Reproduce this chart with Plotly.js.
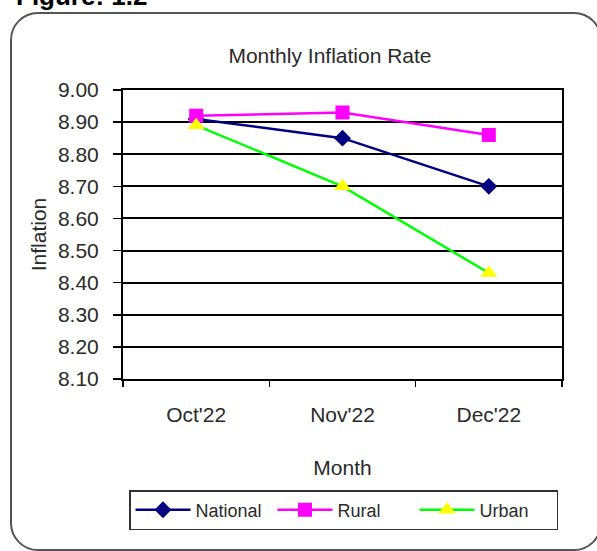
<!DOCTYPE html>
<html>
<head>
<meta charset="utf-8">
<script src="https://cdn.plot.ly/plotly-3.0.1.min.js"></script>
<style>
  html, body { margin:0; padding:0; background:#fff; }
  #wrap { position:relative; width:597px; height:551px; overflow:hidden; }
  #frame { position:absolute; left:10px; top:12px; width:592px; height:539px;
           border:2px solid #555; border-radius:28px; box-sizing:border-box; }
  #chart { position:absolute; left:0; top:0; width:597px; height:551px; }
</style>
</head>
<body>
<div id="wrap">
  <div id="frame"></div>
  <div id="chart"></div>
</div>
<script>
const months = ["Oct'22", "Nov'22", "Dec'22"];
const national = [8.91, 8.85, 8.70];
const rural = [8.92, 8.93, 8.86];
const urban = [8.89, 8.70, 8.43];
const yTicks = [8.10, 8.20, 8.30, 8.40, 8.50, 8.60, 8.70, 8.80, 8.90, 9.00];

const font = 'Liberation Sans, Arial, sans-serif';
const txt = '#2a2a2a';
const L = 123, R = 562, T = 90, B = 379;
const px2x = p => (p - L) / (R - L);
const px2y = p => (B - p) / (B - T);

const traces = [
  { x: months, y: national, name: 'National', type: 'scatter', mode: 'lines+markers',
    line: { color: '#000080', width: 2.5 },
    marker: { symbol: 'diamond', size: 13, color: '#000080' } },
  { x: months, y: rural, name: 'Rural', type: 'scatter', mode: 'lines+markers',
    line: { color: '#FF00FF', width: 2.5 },
    marker: { symbol: 'square', size: 14, color: '#FF00FF' } },
  { x: months, y: urban, name: 'Urban', type: 'scatter', mode: 'lines+markers',
    line: { color: '#00FF00', width: 2.5 },
    marker: { symbol: 'triangle-up', size: 15, color: '#FFFF00' } }
];

const layout = {
  width: 597, height: 551,
  paper_bgcolor: 'rgba(0,0,0,0)', plot_bgcolor: '#fff',
  margin: { l: L, r: 597 - R, t: T, b: 551 - B, pad: 0 },
  font: { family: font, size: 20, color: txt },
  title: { text: 'Monthly Inflation Rate', font: { family: font, size: 21, color: txt },
           x: px2x(330), xref: 'paper', xanchor: 'center', y: 1 - 56/551, yanchor: 'middle' },
  showlegend: true,
  legend: { orientation: 'h', x: px2x(129), xanchor: 'left', y: px2y(490), yanchor: 'top',
            bordercolor: '#333', borderwidth: 1.5, bgcolor: '#fff',
            itemwidth: 55, tracegroupgap: 0, entrywidth: 72, entrywidthmode: 'pixels',
            font: { family: font, size: 18, color: txt } },
  xaxis: {
    type: 'category', range: [-0.5, 2.5], tickson: 'boundaries', automargin: false,
    ticks: 'outside', ticklen: 6, tickwidth: 1.5, tickcolor: '#000',
    showline: true, linecolor: '#000', linewidth: 2, mirror: true,
    showgrid: false, ticklabelstandoff: 16,
    tickfont: { family: font, size: 21, color: txt },
    title: { text: 'Month', font: { family: font, size: 21, color: txt }, standoff: 35 }
  },
  yaxis: {
    range: [8.1, 9.0], tickvals: yTicks, tickformat: '.2f', automargin: false,
    ticks: 'outside', ticklen: 8, tickwidth: 1.5, tickcolor: '#000',
    showline: true, linecolor: '#000', linewidth: 2, mirror: true,
    showgrid: true, gridcolor: '#000', gridwidth: 2, zeroline: false,
    ticklabelstandoff: 10,
    tickfont: { family: font, size: 21, color: txt },
    title: { text: 'Inflation', font: { family: font, size: 21, color: txt }, standoff: 6 }
  },
  annotations: [
    { text: '<b>Figure: 1.2</b>', xref: 'paper', yref: 'paper', x: px2x(14), xanchor: 'left',
      y: px2y(13), yanchor: 'bottom', showarrow: false,
      font: { family: font, size: 26, color: '#000' } }
  ]
};

Plotly.newPlot('chart', traces, layout, { displayModeBar: false, staticPlot: true });
</script>
</body>
</html>
